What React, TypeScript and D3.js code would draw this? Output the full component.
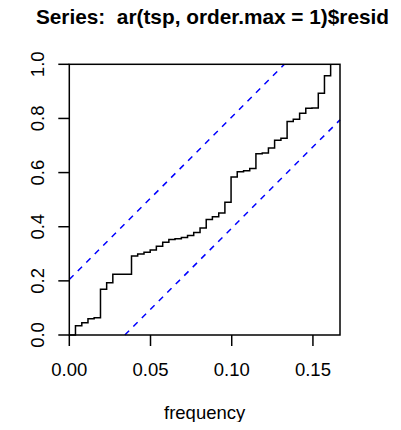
import React from "react";
import * as d3 from "d3";

const frequencies = [
  0, 0.0038, 0.0077, 0.0115, 0.0153, 0.0192, 0.023, 0.0268, 0.0307, 0.0345,
  0.0383, 0.0421, 0.046, 0.0498, 0.0536, 0.0575, 0.0613, 0.0651, 0.069, 0.0728,
  0.0766, 0.0805, 0.0843, 0.0881, 0.092, 0.0958, 0.0996, 0.1034, 0.1073, 0.1111,
  0.1149, 0.1188, 0.1226, 0.1264, 0.1303, 0.1341, 0.1379, 0.1418, 0.1456, 0.1494,
  0.1533, 0.1571, 0.1609,
];
const cumPeriodogram = [
  0, 0.034, 0.045, 0.06, 0.064, 0.169, 0.193, 0.224, 0.224, 0.224,
  0.292, 0.299, 0.306, 0.314, 0.328, 0.343, 0.353, 0.356, 0.36, 0.368,
  0.379, 0.395, 0.427, 0.437, 0.451, 0.49, 0.584, 0.603, 0.607, 0.615,
  0.67, 0.672, 0.691, 0.719, 0.727, 0.789, 0.797, 0.819, 0.838, 0.839,
  0.893, 0.958, 1.0,
];
const xTicks = [0, 0.05, 0.1, 0.15];
const xTickLabels = ["0.00", "0.05", "0.10", "0.15"];
const yTicks = [0, 0.2, 0.4, 0.6, 0.8, 1.0];
const yTickLabels = ["0.0", "0.2", "0.4", "0.6", "0.8", "1.0"];
const xMax = 1 / 6;
const mp = 42;
const crit = 1.358 / (Math.sqrt(mp) + 0.12 + 0.11 / Math.sqrt(mp));
const title = "Series:  ar(tsp, order.max = 1)$resid";
const xLabel = "frequency";

export default function App() {
  const W = 401;
  const H = 430;
  const left = 69.3;
  const right = 340;
  const top = 64.3;
  const bottom = 335;
  const x = d3.scaleLinear().domain([0, xMax]).range([left, right]);
  const y = d3.scaleLinear().domain([0, 1]).range([bottom, top]);
  const pts: [number, number][] = frequencies.map((f, i) => [f, cumPeriodogram[i]]);
  const step = d3
    .line<[number, number]>()
    .x((d) => x(d[0]))
    .y((d) => y(d[1]))
    .curve(d3.curveStepAfter)(pts) as string;
  const font = "Liberation Sans, Arial, Helvetica, sans-serif";
  const fs = 18.5;
  return (
    <div style={{ margin: -8 }}>
      <svg width={W} height={H} style={{ display: "block", background: "#fff" }}>
        <text
          x={212.5}
          y={24}
          textAnchor="middle"
          fontFamily={font}
          fontWeight="bold"
          fontSize={20.8}
          fill="#000"
          style={{ whiteSpace: "pre" }}
        >
          {title}
        </text>
        <path d={step} fill="none" stroke="#000" strokeWidth={1.5} />
        <line
          x1={x(0)}
          y1={y(crit)}
          x2={x(xMax * (1 - crit))}
          y2={y(1)}
          stroke="#0000ff"
          strokeWidth={1.5}
          strokeDasharray="6 6"
        />
        <line
          x1={x(xMax * crit)}
          y1={y(0)}
          x2={x(xMax)}
          y2={y(1 - crit)}
          stroke="#0000ff"
          strokeWidth={1.5}
          strokeDasharray="6 6"
        />
        <rect
          x={left}
          y={top}
          width={right - left}
          height={bottom - top}
          fill="none"
          stroke="#000"
          strokeWidth={1.5}
        />
        {xTicks.map((t, i) => (
          <g key={"x" + i}>
            <line x1={x(t)} x2={x(t)} y1={bottom} y2={bottom + 11} stroke="#000" strokeWidth={1.5} />
            <text x={x(t)} y={376} textAnchor="middle" fontFamily={font} fontSize={fs} fill="#000">
              {xTickLabels[i]}
            </text>
          </g>
        ))}
        {yTicks.map((t, i) => (
          <g key={"y" + i}>
            <line x1={left} x2={left - 11} y1={y(t)} y2={y(t)} stroke="#000" strokeWidth={1.5} />
            <text
              transform={`translate(43.5, ${y(t)}) rotate(-90)`}
              textAnchor="middle"
              fontFamily={font}
              fontSize={fs}
              fill="#000"
            >
              {yTickLabels[i]}
            </text>
          </g>
        ))}
        <text x={(left + right) / 2} y={419} textAnchor="middle" fontFamily={font} fontSize={fs} fill="#000">
          {xLabel}
        </text>
      </svg>
    </div>
  );
}
